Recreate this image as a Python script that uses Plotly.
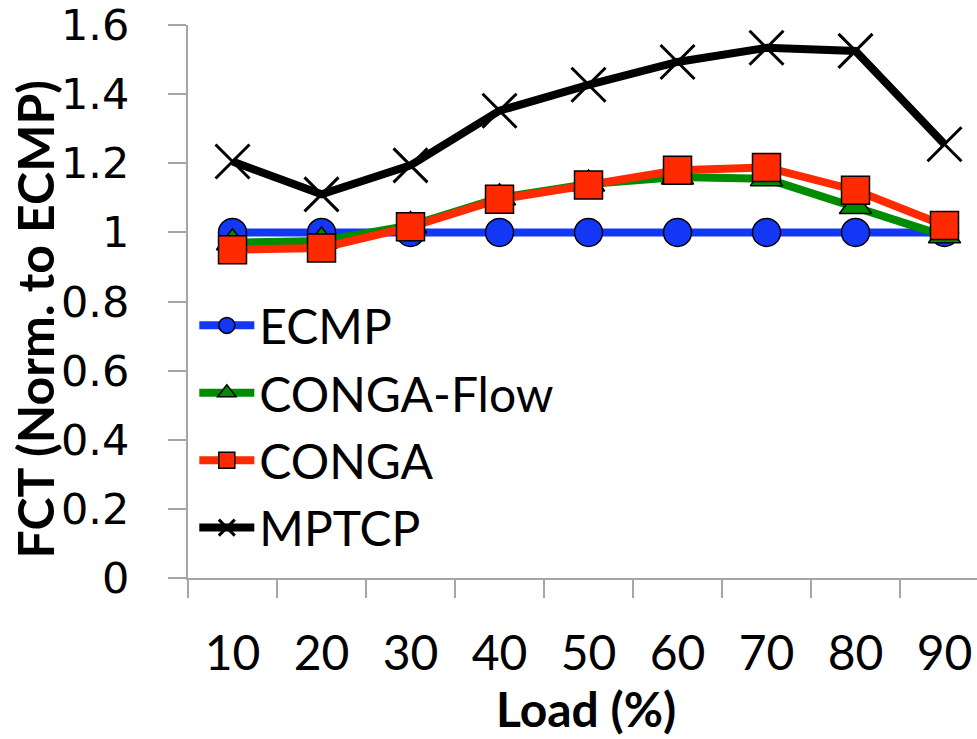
import plotly.graph_objects as go

loads = ["10", "20", "30", "40", "50", "60", "70", "80", "90"]
ecmp = [1.0, 1.0, 1.0, 1.0, 1.0, 1.0, 1.0, 1.0, 1.0]
conga_flow = [0.97, 0.975, 1.02, 1.10, 1.14, 1.16, 1.155, 1.075, 0.99]
conga = [0.95, 0.955, 1.016, 1.096, 1.137, 1.18, 1.188, 1.122, 1.02]
mptcp = [1.205, 1.11, 1.194, 1.352, 1.427, 1.493, 1.534, 1.525, 1.255]

fig = go.Figure()
fig.add_trace(go.Scatter(
    x=loads, y=ecmp, name="ECMP", mode="lines+markers", legendgroup="a",
    line=dict(color="#1436F5", width=8),
    marker=dict(symbol="circle", size=28, color="#1436F5", line=dict(color="black", width=1.5))))
fig.add_trace(go.Scatter(
    x=loads, y=conga_flow, name="CONGA-Flow", mode="lines+markers", legendgroup="b",
    line=dict(color="#008C00", width=8),
    marker=dict(symbol="triangle-up", size=28, color="#008C00", line=dict(color="black", width=1.5))))
fig.add_trace(go.Scatter(
    x=loads, y=conga, name="CONGA", mode="lines+markers", legendgroup="c",
    line=dict(color="#FF2A00", width=8),
    marker=dict(symbol="square", size=28, color="#FF2A00", line=dict(color="black", width=1.5))))
fig.add_trace(go.Scatter(
    x=loads, y=mptcp, name="MPTCP", mode="lines+markers", legendgroup="d",
    line=dict(color="black", width=8),
    marker=dict(symbol="x-thin", size=34, color="black", line=dict(color="black", width=3))))

fig.update_layout(
    width=977, height=739,
    margin=dict(l=188, r=0, t=22, b=161),
    paper_bgcolor="white", plot_bgcolor="white",
    showlegend=True,
    legend=dict(
        x=0.008, y=0.525, xanchor="left", yanchor="top",
        bgcolor="rgba(0,0,0,0)",
        font=dict(family="Lato", size=48, color="black"),
        traceorder="grouped", tracegroupgap=2, itemwidth=55,
    ),
    xaxis=dict(
        type="category", range=[-0.5, 8.365], tickson="boundaries",
        showline=True, linecolor="#A6A6A6", linewidth=2,
        ticks="outside", ticklen=18, tickcolor="#A6A6A6", tickwidth=2,
        showgrid=False, zeroline=False,
        tickfont=dict(family="Lato", size=48, color="black"),
        ticklabelstandoff=32,
    ),
    yaxis=dict(
        range=[0, 1.6], tickvals=[0, 0.2, 0.4, 0.6, 0.8, 1.0, 1.2, 1.4, 1.6],
        ticktext=["0", "0.2", "0.4", "0.6", "0.8", "1", "1.2", "1.4", "1.6"],
        showline=True, linecolor="#A6A6A6", linewidth=2,
        ticks="outside", ticklen=18, tickcolor="#A6A6A6", tickwidth=2,
        showgrid=False, zeroline=False,
        tickfont=dict(family="DejaVu Sans", size=43, color="black"),
        ticklabelstandoff=30, ticklabeloverflow="allow",
    ),
    annotations=[
        dict(text="<b>Load (%)</b>", xref="paper", yref="paper", x=0.504, y=-0.236,
             xanchor="center", yanchor="middle", showarrow=False,
             font=dict(family="Lato", size=48, color="black")),
        dict(text="<b>FCT (Norm. to ECMP)</b>", xref="paper", yref="paper", x=-0.194, y=0.469,
             xanchor="center", yanchor="middle", showarrow=False, textangle=-90,
             font=dict(family="Lato", size=50, color="black")),
    ],
)

fig.write_html("out.html")
